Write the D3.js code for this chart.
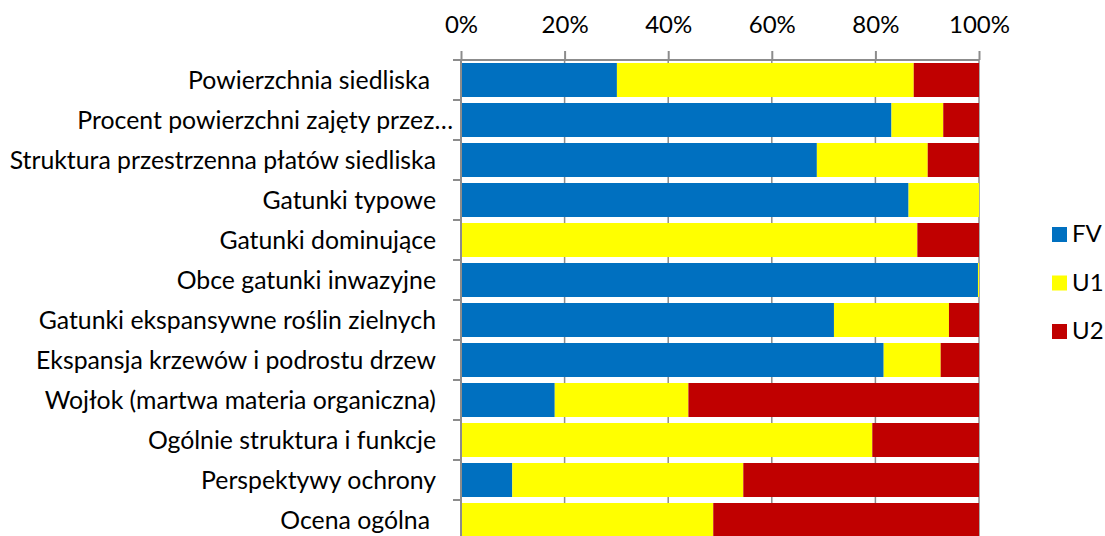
<!DOCTYPE html>
<meta charset="utf-8">
<style>
body { margin: 0; background: #fff; }
text { font-family: Lato, "Liberation Sans", sans-serif; fill: #000; }
.grid line { stroke: #8c8c8c; stroke-width: 1.5; }
.axis line, .axis path { stroke: #8c8c8c; stroke-width: 2; fill: none; }
</style>
<script src="https://d3js.org/d3.v7.min.js"></script>
<svg width="1105" height="536"></svg>
<script>

var categories = [
  "Powierzchnia siedliska",
  "Procent powierzchni zajęty przez…",
  "Struktura przestrzenna płatów siedliska",
  "Gatunki typowe",
  "Gatunki dominujące",
  "Obce gatunki inwazyjne",
  "Gatunki ekspansywne roślin zielnych",
  "Ekspansja krzewów i podrostu drzew",
  "Wojłok (martwa materia organiczna)",
  "Ogólnie struktura i funkcje",
  "Perspektywy ochrony",
  "Ocena ogólna"
];

var fv = [30.1, 83.1, 68.7, 86.4, 0, 99.8, 72.0, 81.6, 18.1, 0, 9.9, 0];
var u1 = [57.3, 10.0, 21.4, 13.6, 88.1, 0.2, 22.2, 11.0, 25.8, 79.4, 44.6, 48.7];
var u2 = [12.6, 6.9, 9.9, 0, 11.9, 0, 5.8, 7.4, 56.1, 20.6, 45.5, 51.3];

var seriesNames = ["FV", "U1", "U2"];
var seriesColors = ["#0070c0", "#ffff00", "#c00000"];
var xTicks = [0, 20, 40, 60, 80, 100];

var svg = d3.select("svg");

var x = d3.scaleLinear().domain([0, 100]).range([461, 979]);
var y = d3.scaleBand().domain(categories).range([60, 540])
    .paddingInner(0.15).paddingOuter(0.075);

var rows = categories.map(function(c, i) {
  return { cat: c, FV: fv[i], U1: u1[i], U2: u2[i] };
});
var stacked = d3.stack().keys(seriesNames)(rows);

// vertical gridlines
svg.append("g")
    .attr("class", "grid")
  .selectAll("line")
  .data(xTicks.slice(1))
  .enter().append("line")
    .attr("x1", function(d) { return x(d); })
    .attr("x2", function(d) { return x(d); })
    .attr("y1", 60)
    .attr("y2", 540);

// bars
svg.append("g")
  .selectAll("g")
  .data(stacked)
  .enter().append("g")
    .attr("fill", function(d, i) { return seriesColors[i]; })
  .selectAll("rect")
  .data(function(d) { return d; })
  .enter().append("rect")
    .attr("x", function(d) { return x(d[0]); })
    .attr("y", function(d) { return y(d.data.cat); })
    .attr("width", function(d) { return x(d[1]) - x(d[0]); })
    .attr("height", y.bandwidth());

// top axis
var topAxis = svg.append("g")
    .attr("class", "axis")
    .attr("transform", "translate(0,60)")
    .call(d3.axisTop(x).tickValues(xTicks).tickSize(9).tickSizeOuter(0)
      .tickFormat(function(d) { return d + "%"; }));
topAxis.selectAll("text")
    .attr("y", -27)
    .style("font-size", "24px");
topAxis.select(".domain").attr("d", "M" + x(0) + ",0H" + x(100));

// left axis with ticks at band boundaries
var leftAxis = svg.append("g").attr("class", "axis");
leftAxis.append("line")
    .attr("x1", x(0)).attr("x2", x(0))
    .attr("y1", 60).attr("y2", 540);
leftAxis.selectAll(".tk")
  .data(d3.range(categories.length + 1))
  .enter().append("line")
    .attr("class", "tk")
    .attr("x1", x(0) - 8).attr("x2", x(0))
    .attr("y1", function(i) { return 60 + i * y.step(); })
    .attr("y2", function(i) { return 60 + i * y.step(); });

svg.append("g")
  .selectAll("text")
  .data(categories)
  .enter().append("text")
    .attr("x", function(d, i) { return i === 1 ? 453 : (i === 0 || i === 11 ? 430 : 436); })
    .attr("y", function(d) { return y(d) + y.bandwidth() / 2; })
    .attr("dy", "0.36em")
    .attr("text-anchor", "end")
    .style("font-size", "24.8px")
    .text(function(d) { return d; });

// legend
var legend = svg.append("g")
  .selectAll("g")
  .data(seriesNames)
  .enter().append("g")
    .attr("transform", function(d, i) { return "translate(1052," + (227 + i * 48.5) + ")"; });
legend.append("rect")
    .attr("width", 15)
    .attr("height", 15)
    .attr("fill", function(d, i) { return seriesColors[i]; });
legend.append("text")
    .attr("x", 20)
    .attr("y", 15)
    .style("font-size", "24px")
    .text(function(d) { return d; });

</script>
